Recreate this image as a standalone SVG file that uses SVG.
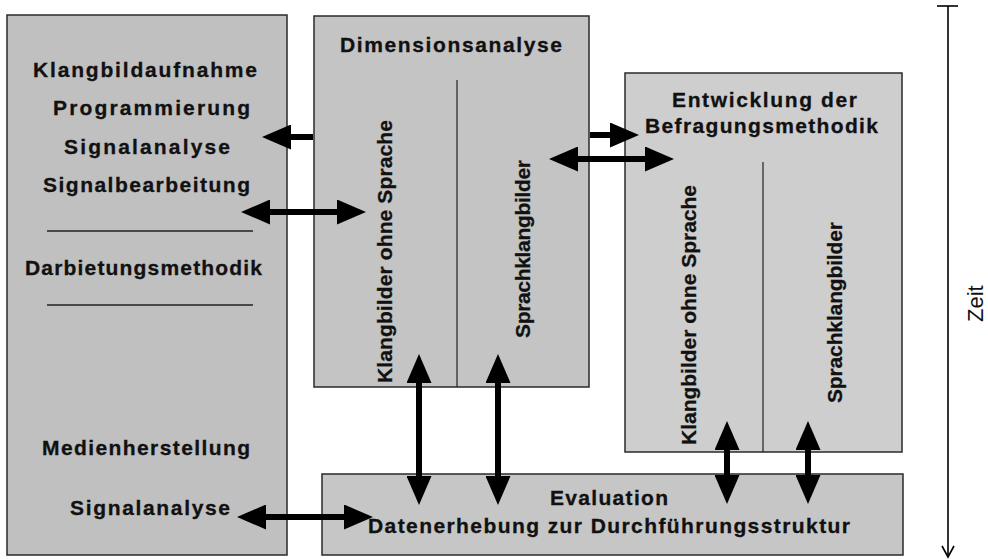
<svg xmlns="http://www.w3.org/2000/svg" width="988" height="559" viewBox="0 0 988 559">
<style>
.box{stroke:#2a2a2a;stroke-width:1.5}
.lbl{font-family:"Liberation Sans",Arial,sans-serif;font-weight:bold;font-size:21px;fill:#111;stroke:#111;stroke-width:0.3}
.vlbl{font-family:"Liberation Sans",Arial,sans-serif;font-weight:bold;font-size:21px;fill:#111;stroke:#111;stroke-width:0.3}
.rule{stroke:#222;stroke-width:1.5}
.div{stroke:#222;stroke-width:1.2}
.arr{stroke:#000;stroke-width:6;fill:none;marker-start:url(#head);marker-end:url(#head)}
.arr1{stroke:#000;stroke-width:6;fill:none;marker-end:url(#head)}
</style>
<defs>
<marker id="head" markerUnits="userSpaceOnUse" markerWidth="29" markerHeight="25" refX="0" refY="12.5" orient="auto-start-reverse" viewBox="0 0 29 25">
<path d="M0,0 L29,12.5 L0,25 z" fill="#000"/>
</marker>
</defs>
<rect width="988" height="559" fill="#fff"/>

<g id="node-left">
<rect class="box" x="7" y="15" width="280" height="540" fill="#c0c0c0"/>
<text class="lbl" x="33" y="77" textLength="224" lengthAdjust="spacing">Klangbildaufnahme</text>
<text class="lbl" x="53" y="115" textLength="197" lengthAdjust="spacing">Programmierung</text>
<text class="lbl" x="64" y="154" textLength="166" lengthAdjust="spacing">Signalanalyse</text>
<text class="lbl" x="43" y="192" textLength="207" lengthAdjust="spacing">Signalbearbeitung</text>
<line class="rule" x1="47" y1="231" x2="253" y2="231"/>
<text class="lbl" x="25" y="275" textLength="237" lengthAdjust="spacing">Darbietungsmethodik</text>
<line class="rule" x1="47" y1="305" x2="253" y2="305"/>
<text class="lbl" x="42" y="455" textLength="208" lengthAdjust="spacing">Medienherstellung</text>
<text class="lbl" x="70" y="515" textLength="160" lengthAdjust="spacing">Signalanalyse</text>
</g>

<g id="node-dimension">
<rect class="box" x="314" y="16" width="275" height="371" fill="#c4c4c4"/>
<text class="lbl" x="340" y="52" textLength="222" lengthAdjust="spacing">Dimensionsanalyse</text>
<line class="div" x1="457" y1="80" x2="457" y2="387"/>
<text class="vlbl" transform="translate(392,383) rotate(-90)" textLength="263" lengthAdjust="spacing">Klangbilder ohne Sprache</text>
<text class="vlbl" transform="translate(530,338) rotate(-90)" textLength="178" lengthAdjust="spacing">Sprachklangbilder</text>
</g>

<g id="node-befragung">
<rect class="box" x="625" y="73" width="277" height="379" fill="#cecece"/>
<text class="lbl" x="672" y="107" textLength="185" lengthAdjust="spacing">Entwicklung der</text>
<text class="lbl" x="645" y="133" textLength="233" lengthAdjust="spacing">Befragungsmethodik</text>
<line class="div" x1="763" y1="162" x2="763" y2="452"/>
<text class="vlbl" transform="translate(696,445) rotate(-90)" textLength="260" lengthAdjust="spacing">Klangbilder ohne Sprache</text>
<text class="vlbl" transform="translate(842,403) rotate(-90)" textLength="181" lengthAdjust="spacing">Sprachklangbilder</text>
</g>

<g id="node-evaluation">
<rect class="box" x="322" y="474" width="581" height="81" fill="#c6c6c6"/>
<text class="lbl" x="550" y="505" textLength="118" lengthAdjust="spacing">Evaluation</text>
<text class="lbl" x="368" y="533" textLength="482" lengthAdjust="spacing">Datenerhebung zur Durchführungsstruktur</text>
</g>

<g id="time-axis">
<line x1="948" y1="6" x2="948" y2="556" stroke="#000" stroke-width="1.6"/>
<line x1="937" y1="6" x2="958" y2="6" stroke="#000" stroke-width="1.6"/>
<polyline points="942,546 948,557 954,546" fill="none" stroke="#000" stroke-width="1.6"/>
<text transform="translate(983,322) rotate(-90)" font-family="'Liberation Sans',Arial,sans-serif" font-size="22" fill="#111">Zeit</text>
</g>

<g id="connectors">
<path class="arr1" d="M313,137 L291,137"/>
<path class="arr" d="M270,212 L337,212"/>
<path class="arr1" d="M590,135 L610,135"/>
<path class="arr" d="M578,159 L645,159"/>
<path class="arr" d="M419,383 L419,476"/>
<path class="arr" d="M498,383 L498,476"/>
<path class="arr" d="M727,450 L727,475"/>
<path class="arr" d="M808,450 L808,475"/>
<path class="arr" d="M266,517 L344,517"/>
</g>
</svg>
